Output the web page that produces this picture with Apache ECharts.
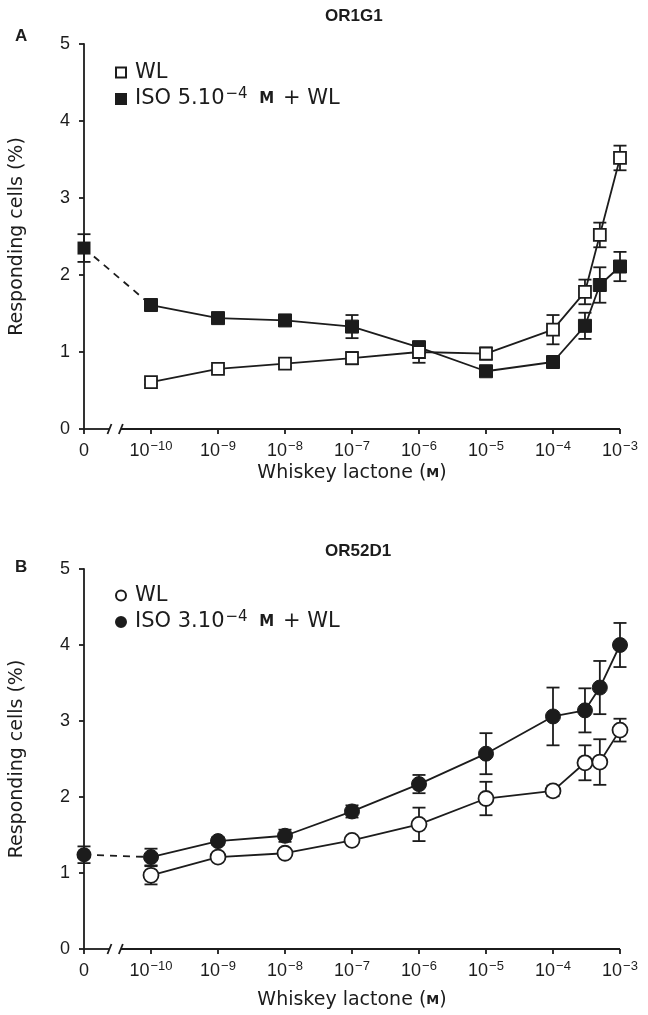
<!DOCTYPE html>
<html>
<head>
<meta charset="utf-8">
<script src="https://cdn.jsdelivr.net/npm/echarts@6/dist/echarts.min.js"></script>
<style>html,body{margin:0;padding:0;background:#fff}#c{width:648px;height:1015px}</style>
</head>
<body>
<div id="c"></div>
<script>
// ---- data ----
const concentrations = [1e-10, 1e-9, 1e-8, 1e-7, 1e-6, 1e-5, 1e-4, 3e-4, 5e-4, 1e-3];
const tickExponents = [0, -10, -9, -8, -7, -6, -5, -4, -3]; // 0 = "0" (no ligand)

// Panel A: OR1G1
const A_WL = [0.61, 0.78, 0.85, 0.92, 1.00, 0.98, 1.29, 1.78, 2.52, 3.52];
const A_WL_err = [0.03, 0.04, 0.04, 0.08, 0.14, 0.08, 0.19, 0.16, 0.16, 0.16];
const A_ISO = [1.61, 1.44, 1.41, 1.33, 1.06, 0.75, 0.87, 1.34, 1.87, 2.11];
const A_ISO_err = [0.04, 0.04, 0.06, 0.15, 0.05, 0.03, 0.04, 0.17, 0.23, 0.19];
const A_ISO_zero = 2.35, A_ISO_zero_err = 0.18;

// Panel B: OR52D1
const B_WL = [0.97, 1.21, 1.26, 1.43, 1.64, 1.98, 2.08, 2.45, 2.46, 2.88];
const B_WL_err = [0.12, 0.04, 0.04, 0.04, 0.22, 0.22, 0.07, 0.23, 0.30, 0.15];
const B_ISO = [1.21, 1.42, 1.49, 1.81, 2.17, 2.57, 3.06, 3.14, 3.44, 4.00];
const B_ISO_err = [0.11, 0.05, 0.08, 0.08, 0.12, 0.27, 0.38, 0.29, 0.35, 0.29];
const B_ISO_zero = 1.24, B_ISO_zero_err = 0.11;

// ---- helpers ----
const ZERO_POS = -11;
function pos(c) { return c === 0 ? ZERO_POS : Math.log10(c); }
const xs = concentrations.map(pos);
function pts(vals) { return vals.map((v, i) => [xs[i], v]); }
function errPts(vals, errs) { return vals.map((v, i) => [xs[i], v, errs[i]]); }

const INK = '#1c1c1c';
const LW = 1.8;
const TICK_FONT = 'Liberation Sans, Arial, sans-serif';
const LEG_FONT = 'DejaVu Sans, Verdana, sans-serif';

function errorBarSeries(data, idx) {
  return {
    type: 'custom', xAxisIndex: idx, yAxisIndex: idx, z: 2, silent: true, clip: false,
    data: data,
    encode: { x: 0, y: 1 },
    renderItem: function (params, api) {
      const x = api.value(0), y = api.value(1), e = api.value(2);
      const t = api.coord([x, y + e]), b = api.coord([x, y - e]);
      const hw = 6.5;
      const st = { stroke: INK, lineWidth: LW };
      return { type: 'group', children: [
        { type: 'line', shape: { x1: t[0], y1: t[1], x2: b[0], y2: b[1] }, style: st },
        { type: 'line', shape: { x1: t[0] - hw, y1: t[1], x2: t[0] + hw, y2: t[1] }, style: st },
        { type: 'line', shape: { x1: b[0] - hw, y1: b[1], x2: b[0] + hw, y2: b[1] }, style: st }
      ]};
    }
  };
}

function axisBreakSeries(idx) {
  return {
    type: 'custom', xAxisIndex: idx, yAxisIndex: idx, z: 1, silent: true, clip: false,
    data: [[ZERO_POS, 0]],
    renderItem: function (params, api) {
      const a = api.coord([ZERO_POS, 0]), e = api.coord([-3, 0]);
      const b1 = api.coord([-10.62, 0])[0], b2 = api.coord([-10.45, 0])[0];
      const y = a[1];
      const st = { stroke: INK, lineWidth: LW };
      return { type: 'group', children: [
        { type: 'line', shape: { x1: a[0], y1: y, x2: b1, y2: y }, style: st },
        { type: 'line', shape: { x1: b1 - 2, y1: y + 5, x2: b1 + 2, y2: y - 5 }, style: st },
        { type: 'line', shape: { x1: b2 - 2, y1: y + 5, x2: b2 + 2, y2: y - 5 }, style: st },
        { type: 'line', shape: { x1: b2, y1: y, x2: e[0], y2: y }, style: st }
      ]};
    }
  };
}

function xAxisDef(idx, nameGap) {
  return {
    gridIndex: idx, type: 'value', min: -11, max: -3, interval: 1,
    axisLine: { show: false },
    axisTick: { show: true, inside: false, length: 5, lineStyle: { color: INK, width: LW } },
    splitLine: { show: false },
    axisLabel: {
      margin: 11,
      formatter: function (v) {
        const ex = tickExponents[v - ZERO_POS];
        return ex === 0 ? '{b|0}' : '{b|10}{s|\u2212' + (-ex) + '}';
      },
      rich: {
        b: { fontSize: 18, fontFamily: TICK_FONT, color: INK, lineHeight: 22 },
        s: { fontSize: 13, fontFamily: TICK_FONT, color: INK, verticalAlign: 'top', lineHeight: 22, padding: [0, 0, 10, 1] }
      }
    },
    name: '{t|Whiskey lactone (}{m|M}{t|)}',
    nameLocation: 'middle', nameGap: nameGap,
    nameTextStyle: {
      rich: {
        t: { fontSize: 19, fontFamily: LEG_FONT, color: INK },
        m: { fontSize: 13, fontFamily: LEG_FONT, color: INK, fontWeight: 'bold' }
      }
    }
  };
}

function yAxisDef(idx) {
  return {
    gridIndex: idx, type: 'value', min: 0, max: 5, interval: 1,
    axisLine: { show: true, onZero: false, lineStyle: { color: INK, width: LW } },
    axisTick: { show: true, inside: false, length: 5, lineStyle: { color: INK, width: LW } },
    splitLine: { show: false },
    axisLabel: { margin: 14, fontSize: 18, fontFamily: TICK_FONT, color: INK },
    name: 'Responding cells (%)', nameLocation: 'middle', nameGap: 57,
    nameTextStyle: { fontSize: 19, fontFamily: LEG_FONT, color: INK }
  };
}

function lineSeries(name, data, idx, symbol, size, filled, z) {
  return {
    name: name, type: 'line', xAxisIndex: idx, yAxisIndex: idx, z: z,
    data: data, symbol: symbol, symbolSize: size, showSymbol: true, showAllSymbol: true,
    animation: false,
    lineStyle: { color: INK, width: LW },
    itemStyle: filled ? { color: INK, borderColor: INK, borderWidth: 1, opacity: 1 } : { color: '#fff', borderColor: INK, borderWidth: 1.8, opacity: 1 },
    emphasis: { disabled: true }
  };
}

function zeroSeries(val, idx, symbol, size) {
  return [
    { type: 'line', xAxisIndex: idx, yAxisIndex: idx, z: 3, silent: true, showSymbol: false, symbol: 'none',
      data: [[ZERO_POS, val[0]], [xs[0], val[1]]],
      lineStyle: { color: INK, width: LW, type: [7, 6] } },
    { type: 'scatter', xAxisIndex: idx, yAxisIndex: idx, z: 3, silent: true, symbol: symbol, symbolSize: size,
      data: [[ZERO_POS, val[0]]], itemStyle: { color: INK, opacity: 1 } }
  ];
}

function legendText(name) {
  if (name === 'A_WL' || name === 'B_WL') return '{t|WL}';
  const c = name === 'A_ISO' ? '5.10' : '3.10';
  return '{t|ISO ' + c + '}{s|\u22124}{t| }{m|M}{t| + WL}';
}
const legendRich = {
  t: { fontSize: 21, fontFamily: LEG_FONT, color: INK, lineHeight: 24 },
  s: { fontSize: 15, fontFamily: LEG_FONT, color: INK, verticalAlign: 'top', lineHeight: 24, padding: [0, 2, 10, 1] },
  m: { fontSize: 15, fontFamily: LEG_FONT, color: INK, fontWeight: 'bold', lineHeight: 24, padding: [0, 2, 0, 3] }
};

const titleStyle = { fontSize: 17, fontWeight: 'bold', fontFamily: TICK_FONT, color: INK };
const option = {
  backgroundColor: '#fff',
  animation: false,
  title: [
    { text: 'A', left: 10, top: 23, textStyle: titleStyle },
    { text: 'OR1G1', left: 320, top: 3, textStyle: titleStyle },
    { text: 'B', left: 10, top: 554, textStyle: titleStyle },
    { text: 'OR52D1', left: 320, top: 538, textStyle: titleStyle }
  ],
  legend: [
    { data: [{ name: 'A_WL', icon: 'rect' }, { name: 'A_ISO', icon: 'rect' }], orient: 'vertical', left: 110, top: 57,
      itemWidth: 10, itemHeight: 10, itemGap: 4, selectedMode: false, formatter: legendText,
      textStyle: { rich: legendRich, padding: [0, 0, 0, 4] } },
    { data: [{ name: 'B_WL', icon: 'circle' }, { name: 'B_ISO', icon: 'circle' }], orient: 'vertical', left: 110, top: 580,
      itemWidth: 10, itemHeight: 10, itemGap: 4, selectedMode: false, formatter: legendText,
      textStyle: { rich: legendRich, padding: [0, 0, 0, 4] } }
  ],
  grid: [
    { left: 84, top: 44, width: 536, height: 385 },
    { left: 84, top: 569, width: 536, height: 380 }
  ],
  xAxis: [xAxisDef(0, 30), xAxisDef(1, 42)],
  yAxis: [yAxisDef(0), yAxisDef(1)],
  series: [
    axisBreakSeries(0),
    axisBreakSeries(1),
    errorBarSeries(errPts(A_ISO, A_ISO_err).concat([[ZERO_POS, A_ISO_zero, A_ISO_zero_err]]), 0),
    errorBarSeries(errPts(A_WL, A_WL_err), 0),
    errorBarSeries(errPts(B_ISO, B_ISO_err).concat([[ZERO_POS, B_ISO_zero, B_ISO_zero_err]]), 1),
    errorBarSeries(errPts(B_WL, B_WL_err), 1),
    ...zeroSeries([A_ISO_zero, A_ISO[0]], 0, 'rect', 13),
    ...zeroSeries([B_ISO_zero, B_ISO[0]], 1, 'circle', 15),
    lineSeries('A_ISO', pts(A_ISO), 0, 'rect', 13, true, 4),
    lineSeries('A_WL', pts(A_WL), 0, 'rect', 12, false, 5),
    lineSeries('B_ISO', pts(B_ISO), 1, 'circle', 15, true, 4),
    lineSeries('B_WL', pts(B_WL), 1, 'circle', 15, false, 5)
  ]
};
echarts.init(document.getElementById('c'), null, { renderer: 'canvas' }).setOption(option);
</script>
</body>
</html>
